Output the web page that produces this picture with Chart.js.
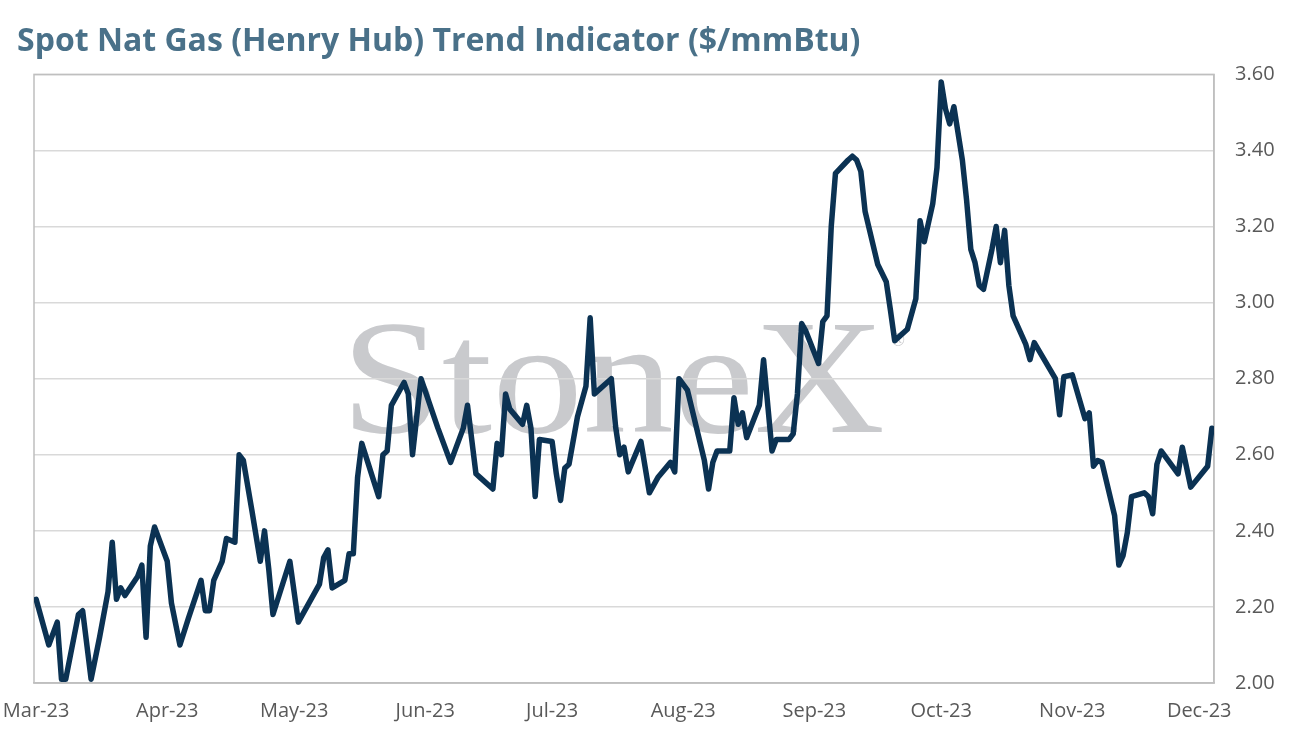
<!DOCTYPE html>
<html>
<head>
<meta charset="utf-8">
<title>Spot Nat Gas (Henry Hub) Trend Indicator</title>
<script src="https://cdn.jsdelivr.net/npm/chart.js@4.4.1/dist/chart.umd.min.js"></script>
<style>
  html, body { margin: 0; padding: 0; background: #fff; }
  #wrap { width: 1290px; height: 741px; }
</style>
</head>
<body>
<div id="wrap"><canvas id="gas" width="1290" height="741"></canvas></div>
<script>
// days counted from 1 Mar 2023
const dayOffsets = [
  0, 3, 5, 6, 7, 10, 11, 13, 15, 17, 18, 19, 20, 21, 24, 25, 26, 27, 28, 31,
  32, 34, 36, 39, 40, 41, 42, 44, 45, 47, 48, 49, 51, 53, 54, 55, 56, 60, 62, 67,
  68, 69, 70, 73, 74, 75, 76, 77, 81, 82, 83, 84, 87, 88, 89, 91, 95, 98, 101, 102,
  104, 105, 108, 109, 110, 111, 112, 115, 116, 117, 118, 119, 122, 123, 124, 125, 126, 128, 130, 131,
  132, 136, 137, 138, 139, 140, 143, 145, 147, 150, 151, 152, 154, 158, 159, 160, 161, 164, 165, 166,
  167, 168, 171, 172, 174, 175, 178, 179, 180, 181, 182, 185, 186, 187, 188, 189, 192, 193, 194, 195,
  196, 199, 201, 202, 203, 206, 208, 209, 210, 212, 213, 214, 215, 216, 217, 219, 220, 221, 222, 223,
  224, 226, 227, 228, 229, 230, 231, 234, 235, 236, 241, 242, 243, 245, 248, 249, 250, 251, 252, 255,
  256, 257, 258, 259, 262, 263, 264, 265, 266, 270, 271, 273, 277, 278
];
const prices = [
  2.22, 2.10, 2.16, 2.01, 2.01, 2.18, 2.19, 2.01, 2.12, 2.24, 2.37, 2.22, 2.25, 2.23, 2.28, 2.31, 2.12, 2.36, 2.41, 2.32,
  2.21, 2.10, 2.17, 2.27, 2.19, 2.19, 2.27, 2.32, 2.38, 2.37, 2.60, 2.585, 2.455, 2.32, 2.40, 2.30, 2.18, 2.32, 2.16, 2.26,
  2.33, 2.35, 2.25, 2.27, 2.34, 2.34, 2.54, 2.63, 2.49, 2.60, 2.61, 2.73, 2.79, 2.76, 2.60, 2.80, 2.67, 2.58, 2.67, 2.73,
  2.55, 2.54, 2.51, 2.63, 2.60, 2.76, 2.72, 2.68, 2.73, 2.67, 2.49, 2.64, 2.635, 2.55, 2.48, 2.565, 2.575, 2.70, 2.78, 2.96,
  2.76, 2.80, 2.675, 2.60, 2.62, 2.555, 2.635, 2.50, 2.54, 2.58, 2.555, 2.80, 2.77, 2.585, 2.51, 2.58, 2.61, 2.61, 2.75, 2.68,
  2.71, 2.645, 2.73, 2.85, 2.61, 2.64, 2.64, 2.655, 2.76, 2.945, 2.925, 2.84, 2.95, 2.965, 3.20, 3.34, 3.375, 3.385, 3.375, 3.345,
  3.24, 3.10, 3.055, 2.98, 2.90, 2.93, 3.01, 3.215, 3.16, 3.26, 3.355, 3.58, 3.51, 3.47, 3.515, 3.375, 3.27, 3.14, 3.105, 3.045,
  3.035, 3.14, 3.20, 3.105, 3.19, 3.045, 2.965, 2.89, 2.85, 2.895, 2.80, 2.705, 2.805, 2.81, 2.695, 2.71, 2.57, 2.585, 2.58, 2.44,
  2.31, 2.335, 2.395, 2.49, 2.50, 2.49, 2.445, 2.575, 2.61, 2.55, 2.62, 2.515, 2.57, 2.67
];

const monthTicks = [0, 31, 61, 92, 122, 153, 184, 214, 245, 275];
const monthLabels = ["Mar-23", "Apr-23", "May-23", "Jun-23", "Jul-23", "Aug-23", "Sep-23", "Oct-23", "Nov-23", "Dec-23"];

const yMin = 2.0, yMax = 3.6, yStep = 0.2;

const FONT = "'Open Sans', Lato, sans-serif";
const NAVY = "#0b3253";
const LABEL = "#595959";

// grey StoneX mark behind the grid
const watermark = {
  id: "watermark",
  beforeDraw(chart) {
    const ctx = chart.ctx;
    ctx.save();
    ctx.fillStyle = "#c9cacd";
    ctx.font = "163px 'Liberation Serif', serif";
    const w = ctx.measureText("StoneX").width;
    ctx.translate(341, 432);
    ctx.scale(544 / w, 1);
    ctx.textBaseline = "alphabetic";
    ctx.fillText("StoneX", 0, 0);
    ctx.restore();
    ctx.save();
    ctx.fillStyle = "#c9cacd";
    ctx.font = "18px 'Liberation Serif', serif";
    ctx.textAlign = "center";
    ctx.textBaseline = "middle";
    ctx.fillText("\u00AE", 898, 341);
    ctx.restore();
  }
};

// box round the plot
const frame = {
  id: "frame",
  beforeDatasetsDraw(chart) {
    const { ctx, chartArea: a } = chart;
    ctx.save();
    ctx.strokeStyle = "#bfbfbf";
    ctx.lineWidth = 1.5;
    ctx.strokeRect(a.left, a.top, a.right - a.left, a.bottom - a.top);
    ctx.restore();
  }
};

new Chart(document.getElementById("gas"), {
  type: "line",
  data: {
    datasets: [{
      data: dayOffsets.map((d, i) => ({ x: d, y: prices[i] })),
      borderColor: NAVY,
      borderWidth: 5.5,
      pointRadius: 0,
      tension: 0,
      borderJoinStyle: "round",
      borderCapStyle: "round"
    }]
  },
  options: {
    responsive: false,
    animation: false,
    devicePixelRatio: 1,
    layout: { padding: { left: 17, right: 0, top: 0, bottom: 2 } },
    plugins: {
      legend: { display: false },
      tooltip: { enabled: false },
      title: {
        display: true,
        text: "Spot Nat Gas (Henry Hub) Trend Indicator ($/mmBtu)",
        align: "start",
        color: "#4a7189",
        font: { family: FONT, size: 32, weight: "bold" },
        padding: { top: 23, bottom: 13 }
      }
    },
    scales: {
      x: {
        type: "linear",
        min: -0.5,
        max: 278.5,
        afterBuildTicks: (s) => { s.ticks = monthTicks.map(v => ({ value: v })); },
        afterFit: (s) => { s.paddingLeft = 34; s.paddingRight = 0; },
        ticks: {
          color: LABEL,
          font: { family: FONT, size: 20 },
          padding: 16,
          maxRotation: 0,
          autoSkip: false,
          callback: (v, i) => monthLabels[i]
        },
        grid: { display: false, drawTicks: false },
        border: { display: true, color: "#bfbfbf", width: 1.5 }
      },
      y: {
        position: "right",
        min: yMin,
        max: yMax,
        ticks: {
          stepSize: yStep,
          color: LABEL,
          font: { family: FONT, size: 20 },
          padding: 21,
          callback: (v) => v.toFixed(2)
        },
        afterFit: (s) => { s.width = 76; },
        grid: { color: "#d9d9d9", lineWidth: 1.5, drawTicks: false },
        border: { display: true, color: "#bfbfbf", width: 1.5 }
      }
    }
  },
  plugins: [watermark, frame]
});
</script>
</body>
</html>
